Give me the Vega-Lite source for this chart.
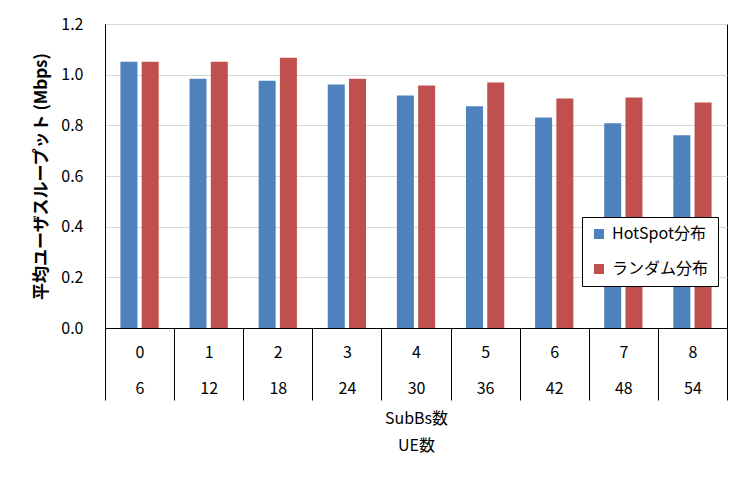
{
  "$schema": "https://vega.github.io/schema/vega-lite/v6.json",
  "autosize": "none",
  "width": 622,
  "height": 304,
  "padding": {"left": 105, "top": 24, "right": 25, "bottom": 157},
  "background": "white",
  "data": {
    "values": [
      {"cat": "0|6", "series": "HotSpot分布", "value": 1.051},
      {"cat": "0|6", "series": "ランダム分布", "value": 1.051},
      {"cat": "1|12", "series": "HotSpot分布", "value": 0.984},
      {"cat": "1|12", "series": "ランダム分布", "value": 1.051},
      {"cat": "2|18", "series": "HotSpot分布", "value": 0.976},
      {"cat": "2|18", "series": "ランダム分布", "value": 1.067},
      {"cat": "3|24", "series": "HotSpot分布", "value": 0.961},
      {"cat": "3|24", "series": "ランダム分布", "value": 0.984},
      {"cat": "4|30", "series": "HotSpot分布", "value": 0.918},
      {"cat": "4|30", "series": "ランダム分布", "value": 0.957},
      {"cat": "5|36", "series": "HotSpot分布", "value": 0.875},
      {"cat": "5|36", "series": "ランダム分布", "value": 0.969},
      {"cat": "6|42", "series": "HotSpot分布", "value": 0.831},
      {"cat": "6|42", "series": "ランダム分布", "value": 0.906},
      {"cat": "7|48", "series": "HotSpot分布", "value": 0.808},
      {"cat": "7|48", "series": "ランダム分布", "value": 0.910},
      {"cat": "8|54", "series": "HotSpot分布", "value": 0.761},
      {"cat": "8|54", "series": "ランダム分布", "value": 0.890}
    ]
  },
  "mark": {"type": "bar"},
  "encoding": {
    "x": {
      "field": "cat",
      "type": "nominal",
      "sort": null,
      "scale": {"paddingInner": 0, "paddingOuter": 0},
      "axis": {
        "title": ["SubBs数", "UE数"],
        "titleFontWeight": "normal",
        "titleFontSize": 16,
        "titleLineHeight": 27,
        "titlePadding": 10,
        "titleColor": "#000",
        "labelExpr": "split(datum.label, '|')",
        "labelAngle": 0,
        "labelFontSize": 16,
        "labelLineHeight": 36,
        "labelBaseline": "top",
        "labelPadding": -56,
        "labelColor": "#000",
        "tickBand": "extent",
        "tickSize": 72,
        "tickColor": "#000",
        "domainColor": "#000"
      }
    },
    "xOffset": {
      "field": "series",
      "type": "nominal",
      "scale": {"domain": ["HotSpot分布", "ランダム分布"], "paddingInner": 0.2, "paddingOuter": 0.725}
    },
    "y": {
      "field": "value",
      "type": "quantitative",
      "scale": {"domain": [0, 1.2], "nice": false},
      "axis": {
        "title": "平均ユーザスループット (Mbps)",
        "titleFontSize": 17,
        "titleFontWeight": "bold",
        "titleColor": "#000",
        "titlePadding": 10,
        "values": [0, 0.2, 0.4, 0.6, 0.8, 1.0, 1.2],
        "format": ".1f",
        "labelFontSize": 16,
        "labelColor": "#000",
        "labelPadding": 22,
        "ticks": false,
        "gridColor": "#d9d9d9",
        "domainColor": "#000"
      }
    },
    "color": {
      "field": "series",
      "type": "nominal",
      "scale": {"domain": ["HotSpot分布", "ランダム分布"], "range": ["#4f81bd", "#c0504d"]},
      "legend": {
        "title": null,
        "orient": "none",
        "legendX": 477,
        "legendY": 193,
        "symbolType": "square",
        "symbolSize": 100,
        "symbolStrokeWidth": 0,
        "symbolOpacity": 1,
        "labelFontSize": 16,
        "labelColor": "#000",
        "labelOffset": 5,
        "rowPadding": 19,
        "padding": 9,
        "fillColor": "white",
        "strokeColor": "#000"
      }
    }
  },
  "config": {
    "font": "Noto Sans CJK JP",
    "view": {"stroke": "#000", "strokeWidth": 1},
    "legend": {"symbolBaseFillColor": "transparent"}
  }
}
